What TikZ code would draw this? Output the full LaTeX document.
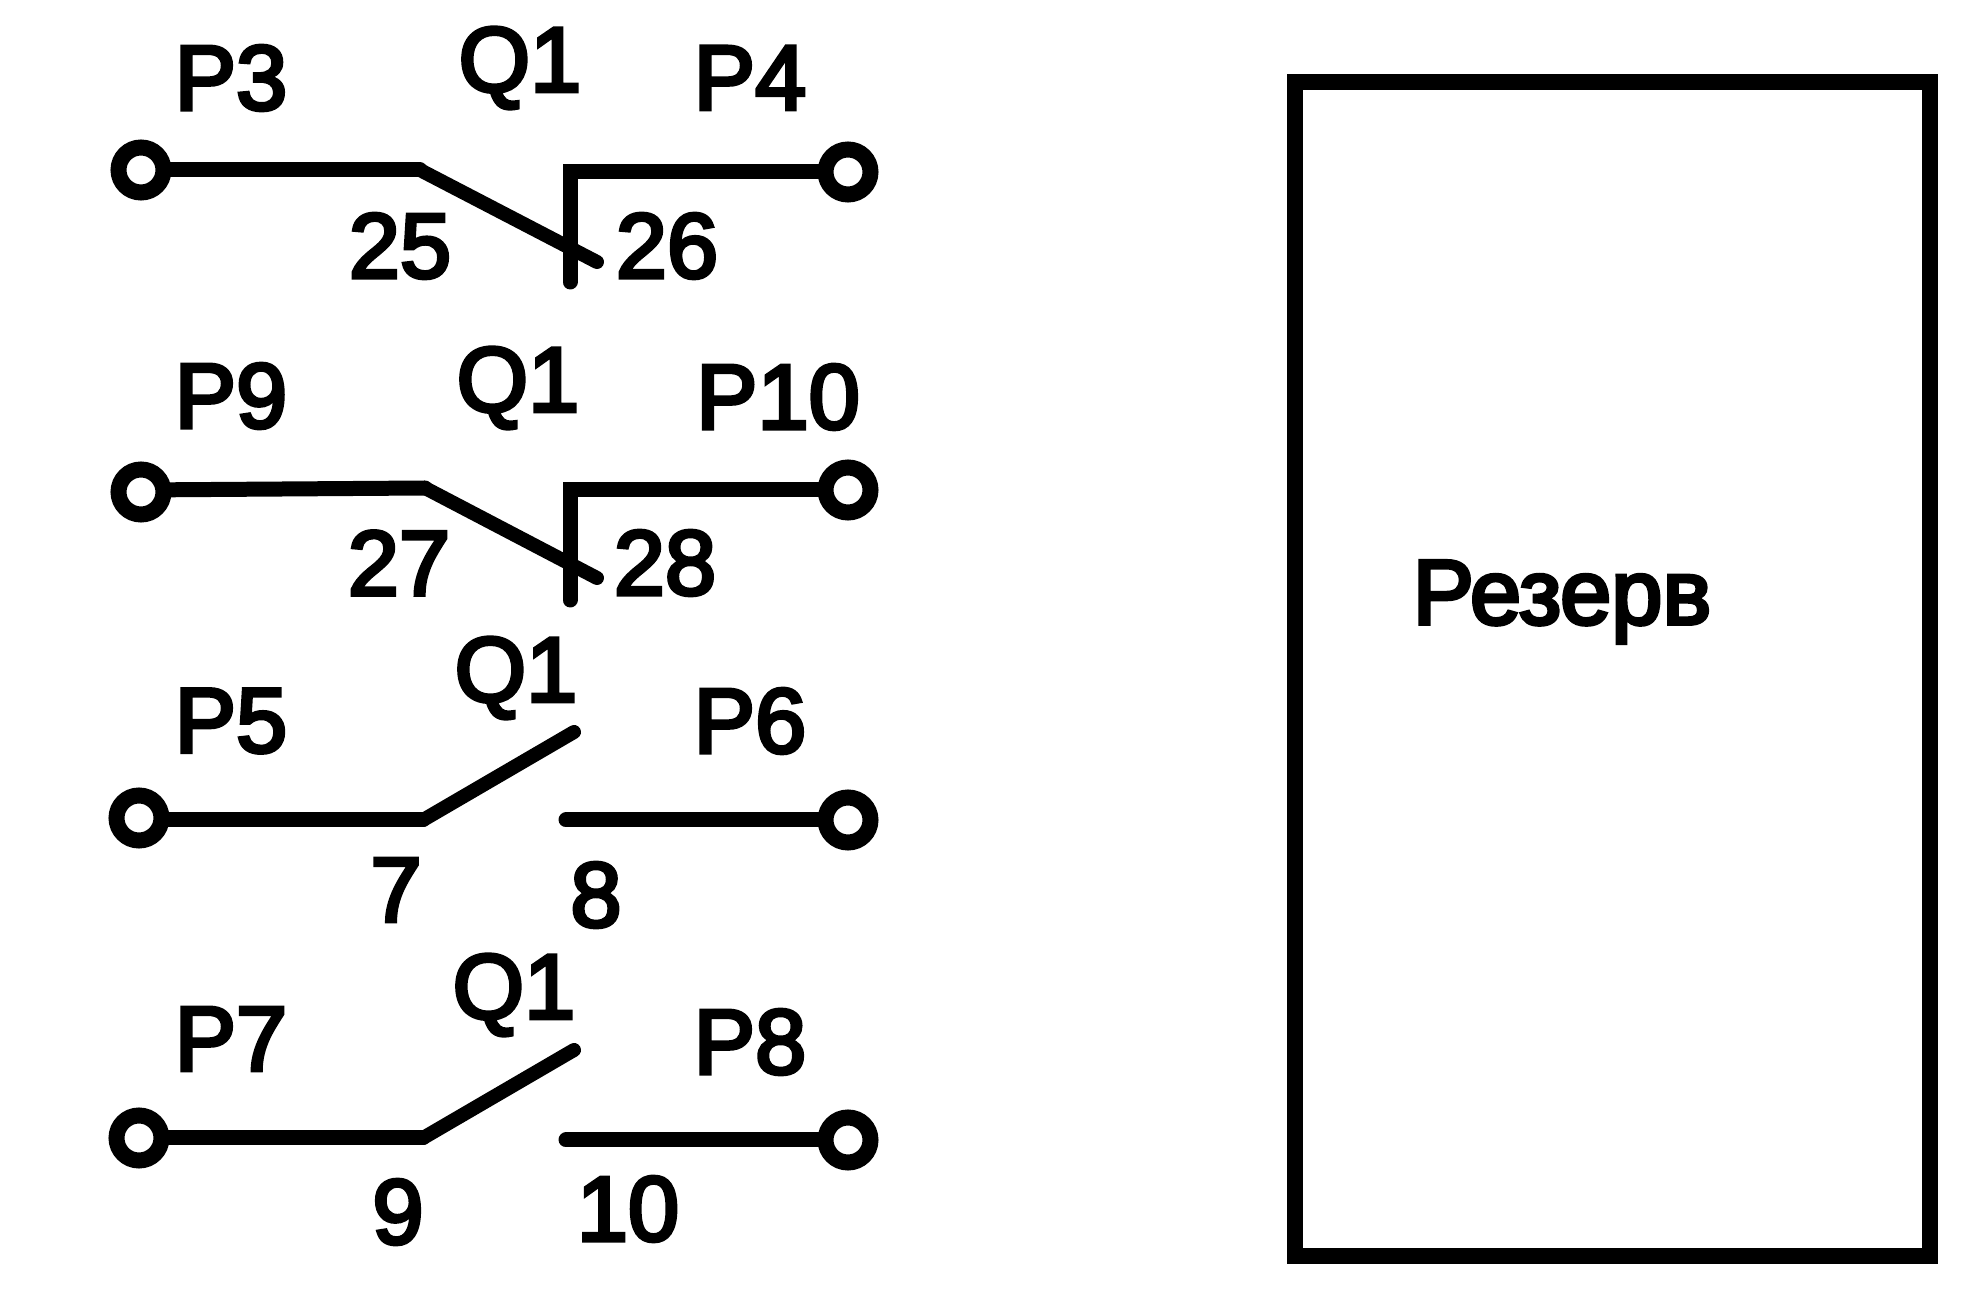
\documentclass[tikz,border=0pt]{standalone}
\usepackage{fontspec}
\setmainfont{Liberation Sans}
\newfontfamily\labfont[FakeBold=4]{Liberation Sans}
\begin{document}
\begin{tikzpicture}[x=0.5pt,y=-0.5pt,
  wire/.style={line width=7.5pt,line cap=round,line join=miter},
  contact/.style={line width=7pt,line cap=round},
  term/.style={circle,draw,line width=8pt,fill=white,inner sep=0pt,minimum size=22.5pt},
  lab/.style={inner sep=0pt,font=\fontsize{46pt}{46pt}\labfont},
  bigbox/.style={draw,line width=8pt,inner sep=0pt,minimum width=317.5pt,minimum height=587pt}]
\useasboundingbox (0,0) rectangle (1983,1293);
\fill[white] (0,0) rectangle (1983,1293);
% row 1
\coordinate (k1a) at (420,170);
\coordinate (k1b) at (597,262);
\coordinate (f1a) at (570,172);
\coordinate (f1c) at (570,282);
\draw[wire] (141,170) coordinate (w1a) -- (k1a);
\draw[contact] (k1a) -- (k1b);
\draw[wire] (848,172) coordinate (w1b) -- (f1a) -- (f1c);
\node[term] (t1a) at (w1a) {};
\node[term] (t1b) at (w1b) {};
% row 2
\coordinate (k2a) at (425,488);
\coordinate (k2b) at (597,578);
\coordinate (f2a) at (570,490);
\coordinate (f2c) at (570,600);
\draw[wire] (141,490) coordinate (w2a) -- (k2a);
\draw[contact] (k2a) -- (k2b);
\draw[wire] (848,490) coordinate (w2b) -- (f2a) -- (f2c);
\node[term] (t2a) at (141,492) {};
\node[term] (t2b) at (w2b) {};
% row 3
\coordinate (k3a) at (423,820);
\coordinate (k3b) at (574,732);
\coordinate (f3a) at (566,820);
\draw[wire] (139,820) coordinate (w3a) -- (k3a);
\draw[contact] (k3a) -- (k3b);
\draw[wire] (848,820) coordinate (w3b) -- (f3a);
\node[term] (t3a) at (139,818) {};
\node[term] (t3b) at (w3b) {};
% row 4
\coordinate (k4a) at (423,1138);
\coordinate (k4b) at (574,1050);
\coordinate (f4a) at (566,1140);
\draw[wire] (139,1138) coordinate (w4a) -- (k4a);
\draw[contact] (k4a) -- (k4b);
\draw[wire] (848,1140) coordinate (w4b) -- (f4a);
\node[term] (t4a) at (w4a) {};
\node[term] (t4b) at (w4b) {};
% labels
\node[lab] (p3) at (231,78) {P3};
\node[lab] (q1) at (520,68) {Q1};
\node[lab] (p4) at (750,78) {P4};
\node[lab] (n25) at (400,246) {25};
\node[lab] (n26) at (667,246) {26};
\node[lab] (p9) at (231,396) {P9};
\node[lab] (q2) at (518,388) {Q1};
\node[lab] (p10) at (778,397) {P10};
\node[lab] (n27) at (399,563) {27};
\node[lab] (n28) at (665,563) {28};
\node[lab] (p5) at (231,721) {P5};
\node[lab] (q3) at (516,678) {Q1};
\node[lab] (p6) at (750,721) {P6};
\node[lab] (n7) at (396,890) {7};
\node[lab] (n8) at (596,895) {8};
\node[lab] (p7) at (231,1039) {P7};
\node[lab] (q4) at (514,995) {Q1};
\node[lab] (p8) at (750,1042) {P8};
\node[lab] (n9) at (398,1212) {9};
\node[lab] (n10) at (628,1209) {10};
\node[bigbox] (box) at (1612,669) {};
\node[lab] (rez) at (1562,602) {Резерв};
\end{tikzpicture}
\end{document}
